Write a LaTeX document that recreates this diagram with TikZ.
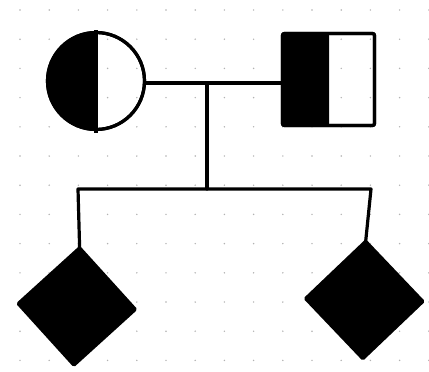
\documentclass[tikz,border=0pt]{standalone}
\begin{document}
\begin{tikzpicture}[x=1pt,y=-1pt,
  lw/.style={line width=3.2pt},
  dotc/.style={fill=black!30},
  person/.style={draw=black,line width=3.2pt,inner sep=0pt,outer sep=0pt},
  conn/.style={line width=3.2pt,line join=round,line cap=round}]
\useasboundingbox[fill=white] (0,0) rectangle (429,372);
% dotted grid
\foreach \i in {0,...,14}{
  \foreach \j in {0,...,12}{
    \fill[dotc] (20+29.2*\i,10+29.2*\j) circle (0.8);
  }
}
% female: half-filled circle
\node[person,circle,minimum size=97] (c) at (96,81) {};
\fill[black] (c.north) arc[start angle=270,end angle=90,radius=48.5] -- cycle;
\draw[lw] (c.center) circle (48.5);
\draw[lw] (96,30) -- (96,133);
% male: half-filled square
\node[person,rectangle,minimum size=92,rounded corners=2pt] (s) at (328.5,79.5) {};
\fill[black,rounded corners=2pt] (s.north west) rectangle (329,126);
\draw[lw,rounded corners=2pt] (s.north west) rectangle (s.south east);
% children: filled diamonds
\node[person,rectangle,fill=black,minimum size=83,rotate=-47.8,rounded corners=1pt] (ld) at (76.75,306.5) {};
\node[person,rectangle,fill=black,minimum size=83,rotate=-46.4,rounded corners=1pt] (rd) at (364.25,300) {};
% connectors
\coordinate (m) at (207,83);
\coordinate (sl) at (78,189);
\coordinate (sr) at (371,189);
\draw[conn] (c.east |- m) -- (s.west |- m);
\draw[conn] (m) -- (m |- sl);
\draw[conn] (ld.north west) -- (sl) -- (sr) -- (rd.north west);
\end{tikzpicture}
\end{document}
